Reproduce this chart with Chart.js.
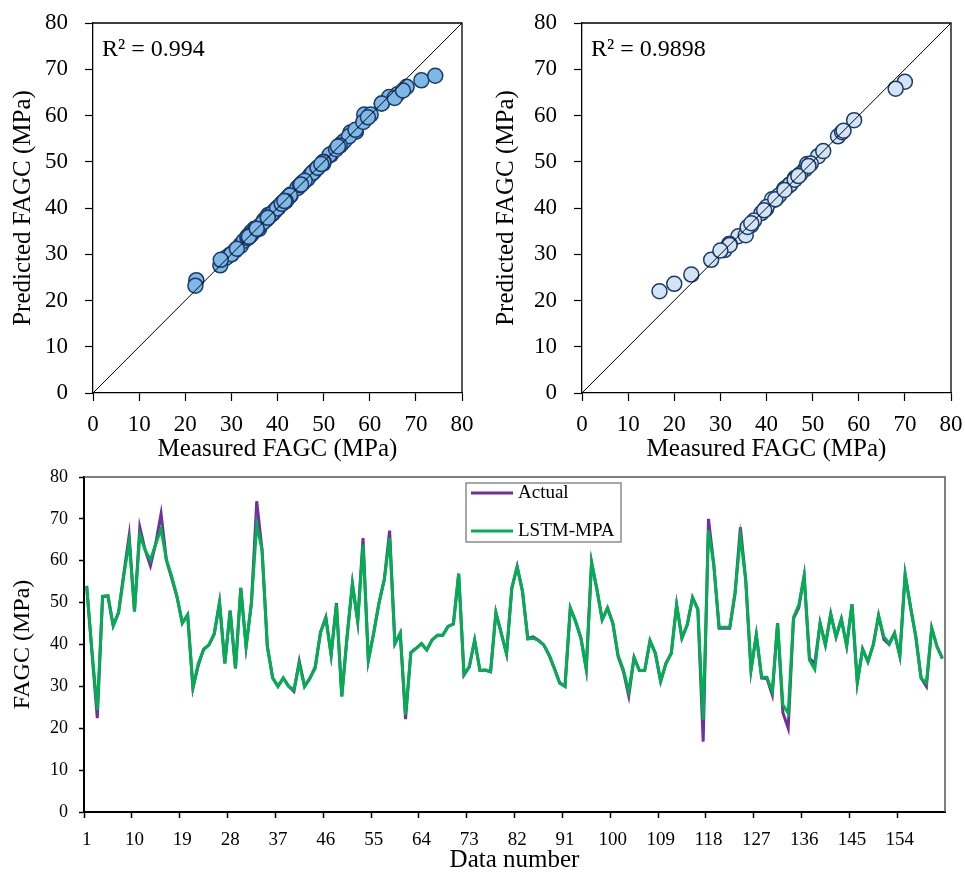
<!DOCTYPE html>
<html>
<head>
<meta charset="utf-8">
<title>FAGC</title>
<script src="https://cdn.jsdelivr.net/npm/chart.js@4.4.1/dist/chart.umd.min.js"></script>
<style>
body{margin:0;background:#fff;overflow:hidden;}
#wrap{position:relative;width:965px;height:875px;background:#fff;}
canvas{position:absolute;}
</style>
</head>
<body>
<div id="wrap">
<canvas id="trainChart" width="480" height="470" style="left:0;top:0"></canvas>
<canvas id="testChart" width="476" height="470" style="left:489px;top:0"></canvas>
<canvas id="seriesChart" width="965" height="410" style="left:0;top:465px"></canvas>
</div>
<script>
// measured (actual) FAGC for each data number
var actual = [
54.0, 38.0, 22.4, 51.5, 51.6, 44.5, 47.6, 57.0, 66.0, 47.9,
68.0, 62.6, 58.8, 64.2, 71.2, 60.2, 55.8, 51.3, 45.1, 47.1,
29.6, 35.0, 38.9, 39.9, 42.5, 50.0, 35.5, 48.1, 34.3, 53.5,
39.5, 49.9, 74.2, 62.6, 39.5, 32.0, 30.0, 32.0, 30.0, 28.8,
36.0, 30.0, 32.0, 34.3, 42.9, 46.5, 37.5, 49.9, 27.6, 41.9,
54.5, 45.5, 65.4, 36.2, 42.7, 49.9, 55.5, 67.2, 40.2, 42.7,
22.2, 38.1, 39.1, 40.2, 38.7, 41.1, 42.2, 42.2, 44.3, 44.9,
56.9, 32.7, 34.7, 41.0, 33.8, 33.9, 33.5, 47.6, 42.7, 37.8,
53.5, 58.6, 52.7, 41.5, 41.8, 41.0, 39.9, 37.5, 34.3, 30.8,
30.0, 48.7, 45.5, 41.5, 34.1, 59.6, 53.1, 45.9, 48.7, 45.1,
37.1, 33.5, 27.7, 36.9, 33.8, 33.8, 40.9, 37.9, 31.2, 35.5,
37.9, 49.5, 41.5, 44.7, 51.2, 48.4, 16.8, 70.0, 59.0, 43.9,
43.9, 43.9, 52.3, 68.0, 55.5, 33.9, 42.3, 32.0, 31.9, 28.0,
45.1, 23.7, 20.0, 46.2, 48.8, 56.4, 36.7, 35.5, 45.1, 39.9,
47.3, 41.8, 46.1, 39.7, 49.6, 30.9, 38.9, 35.9, 39.9, 46.9,
41.2, 40.0, 42.7, 37.3, 56.7, 49.1, 41.9, 32.0, 30.0, 43.9,
39.5, 36.7
];
// LSTM-MPA predictions
var predicted = [
54.0, 38.5, 24.4, 51.5, 51.6, 44.5, 47.6, 56.5, 64.6, 47.9,
66.2, 62.6, 60.2, 64.0, 67.6, 60.2, 56.3, 51.5, 45.1, 47.1,
29.8, 35.5, 38.7, 39.9, 42.5, 50.0, 35.5, 48.1, 34.3, 53.5,
39.5, 49.9, 68.6, 62.6, 39.5, 32.0, 30.0, 32.0, 30.0, 29.2,
35.5, 30.0, 31.8, 34.8, 42.9, 46.3, 37.5, 49.6, 27.6, 41.9,
54.5, 45.5, 63.8, 36.2, 42.7, 49.9, 55.5, 65.4, 40.2, 42.7,
23.2, 38.1, 39.1, 40.2, 38.7, 41.1, 42.2, 42.2, 44.3, 44.9,
56.9, 32.9, 34.7, 41.0, 33.8, 33.9, 33.5, 47.6, 42.7, 37.8,
53.5, 58.6, 52.7, 41.3, 41.5, 41.0, 39.9, 37.5, 34.3, 30.8,
30.0, 48.7, 45.5, 41.5, 34.1, 59.6, 53.3, 45.9, 48.7, 45.1,
37.4, 33.9, 28.8, 36.9, 33.8, 33.8, 40.9, 37.9, 31.2, 35.5,
37.9, 49.5, 41.5, 44.7, 51.2, 48.4, 22.0, 67.3, 59.0, 44.1,
44.1, 44.1, 52.3, 65.8, 55.5, 33.9, 42.3, 32.2, 32.2, 28.8,
45.1, 25.6, 23.6, 46.5, 49.5, 56.4, 36.3, 34.1, 45.1, 39.9,
47.3, 41.8, 46.1, 39.7, 49.6, 30.9, 38.9, 35.9, 39.9, 46.9,
41.9, 40.2, 42.7, 37.3, 56.7, 49.1, 41.9, 32.0, 30.8, 43.9,
39.5, 36.7
];
var dataNumbers = [];
for (var n = 1; n <= actual.length; n++) dataNumbers.push(n);

var trainCount = 113;          // first 113 samples = training, rest = testing
var r2Labels = ['R\u00B2 = 0.994', 'R\u00B2 = 0.9898'];
var seriesNames = ['Actual', 'LSTM-MPA'];
var seriesColors = ['#7030A0', '#00B050'];

var serif = "'Liberation Serif', 'Times New Roman', serif";

function pairs(from, to) {
    var out = [];
    for (var i = from; i < to; i++) out.push({x: actual[i], y: predicted[i]});
    return out;
}

// fixed axis boxes so the plot areas land where they should
function fixY(w) {
    return function (s) { s.width = w; s.paddingTop = 0; s.paddingBottom = 0; };
}
function fixX(h) {
    return function (s) { s.height = h; s.paddingLeft = 0; s.paddingRight = 0; };
}

var framePlugin = {
    id: 'frame',
    afterDraw: function (chart, args, opts) {
        var a = chart.chartArea, c = chart.ctx;
        c.save();
        c.strokeStyle = opts.color || '#000';
        c.lineWidth = opts.width || 1.3;
        c.beginPath();
        c.moveTo(a.left, a.top);
        c.lineTo(a.right, a.top);
        c.lineTo(a.right, a.bottom);
        c.stroke();
        if (opts.text) {
            c.fillStyle = '#000';
            c.font = '24px ' + serif;
            c.textBaseline = 'alphabetic';
            c.fillText(opts.text, a.left + 9, a.top + 33);
        }
        c.restore();
    }
};

function scatterChart(id, pts, fill, r2, titlePad, rightPad) {
    return new Chart(document.getElementById(id), {
        type: 'scatter',
        data: {
            datasets: [
                {data: [{x: 0, y: 0}, {x: 80, y: 80}], showLine: true, borderColor: '#000',
                 borderWidth: 1, pointRadius: 0},
                {data: pts, backgroundColor: fill, borderColor: '#1B3A6B', borderWidth: 1.5, pointRadius: 7.5}
            ]
        },
        options: {
            responsive: false,
            animation: false,
            layout: {padding: {top: 23, right: rightPad, left: 0, bottom: 0}},
            plugins: {legend: {display: false}, tooltip: {enabled: false},
                      frame: {color: '#000', width: 1.3, text: r2}},
            scales: {
                x: {
                    min: 0, max: 80,
                    ticks: {stepSize: 10, color: '#000', font: {family: serif, size: 23}, padding: 10, maxRotation: 0},
                    grid: {drawOnChartArea: false, tickLength: 8, tickColor: '#000', tickWidth: 1.2},
                    border: {color: '#000', width: 1.3},
                    title: {display: true, text: 'Measured FAGC (MPa)', color: '#000',
                            font: {family: serif, size: 25}, padding: {top: 0, bottom: 6}},
                    afterFit: fixX(77)
                },
                y: {
                    min: 0, max: 80,
                    ticks: {stepSize: 10, color: '#000', font: {family: serif, size: 23}, padding: 17},
                    grid: {drawOnChartArea: false, tickLength: 8, tickColor: '#000', tickWidth: 1.2},
                    border: {color: '#000', width: 1.3},
                    title: {display: true, text: 'Predicted FAGC (MPa)', color: '#000',
                            font: {family: serif, size: 25}, padding: {top: titlePad, bottom: 0}},
                    afterFit: fixY(93)
                }
            }
        },
        plugins: [framePlugin]
    });
}

scatterChart('trainChart', pairs(0, trainCount), '#7DB8E6', r2Labels[0], 8, 18);
scatterChart('testChart', pairs(trainCount, actual.length), '#D3E5F5', r2Labels[1], 2, 14);

var seriesFrame = {
    id: 'seriesFrame',
    afterDraw: function (chart) {
        var a = chart.chartArea, c = chart.ctx;
        c.save();
        c.strokeStyle = '#555';
        c.lineWidth = 1.5;
        c.beginPath();
        c.moveTo(a.left, a.top);
        c.lineTo(a.right, a.top);
        c.lineTo(a.right, a.bottom);
        c.stroke();
        // legend box
        var lx = a.left + 382, ly = a.top + 6, lw = 155, lh = 59;
        c.fillStyle = '#fff';
        c.fillRect(lx, ly, lw, lh);
        c.strokeStyle = '#8a8a8a';
        c.lineWidth = 1.5;
        c.strokeRect(lx, ly, lw, lh);
        c.font = '19px ' + serif;
        c.textBaseline = 'middle';
        for (var k = 0; k < seriesNames.length; k++) {
            var yy = ly + 10 + k * 38;
            c.strokeStyle = seriesColors[k];
            c.lineWidth = 3;
            c.beginPath();
            c.moveTo(lx + 5, yy);
            c.lineTo(lx + 47, yy);
            c.stroke();
            c.fillStyle = '#000';
            c.fillText(seriesNames[k], lx + 52, yy);
        }
        c.restore();
    }
};

new Chart(document.getElementById('seriesChart'), {
    type: 'line',
    data: {
        labels: dataNumbers,
        datasets: [
            {label: seriesNames[0], data: actual, borderColor: seriesColors[0], borderWidth: 3,
             pointRadius: 0, tension: 0, order: 1},
            {label: seriesNames[1], data: predicted, borderColor: seriesColors[1], borderWidth: 3,
             pointRadius: 0, tension: 0, order: 0}
        ]
    },
    options: {
        responsive: false,
        animation: false,
        layout: {padding: {top: 12, right: 20, left: 0, bottom: 0}},
        plugins: {legend: {display: false}, tooltip: {enabled: false}},
        scales: {
            x: {
                offset: true,
                grid: {offset: true, drawOnChartArea: false, tickLength: 6, tickWidth: 1.5,
                       tickColor: function (c) { return c.index % 9 === 0 ? '#000' : 'rgba(0,0,0,0)'; }},
                border: {color: '#000', width: 2},
                ticks: {autoSkip: false, maxRotation: 0, color: '#000', font: {family: serif, size: 19}, padding: 11,
                        callback: function (v, i) { return i % 9 === 0 ? this.getLabelForValue(v) : ''; }},
                title: {display: true, text: 'Data number', color: '#000',
                        font: {family: serif, size: 25}, padding: {top: 0, bottom: 0}},
                afterFit: fixX(63)
            },
            y: {
                min: 0, max: 80,
                ticks: {stepSize: 10, color: '#000', font: {family: serif, size: 18}, padding: 11},
                grid: {drawOnChartArea: false, tickLength: 5, tickColor: '#000', tickWidth: 1.5},
                border: {color: '#000', width: 2},
                title: {display: true, text: 'FAGC (MPa)', color: '#000',
                        font: {family: serif, size: 24}, padding: {top: 8, bottom: 0}},
                afterFit: fixY(84)
            }
        }
    },
    plugins: [seriesFrame]
});
</script>
</body>
</html>
